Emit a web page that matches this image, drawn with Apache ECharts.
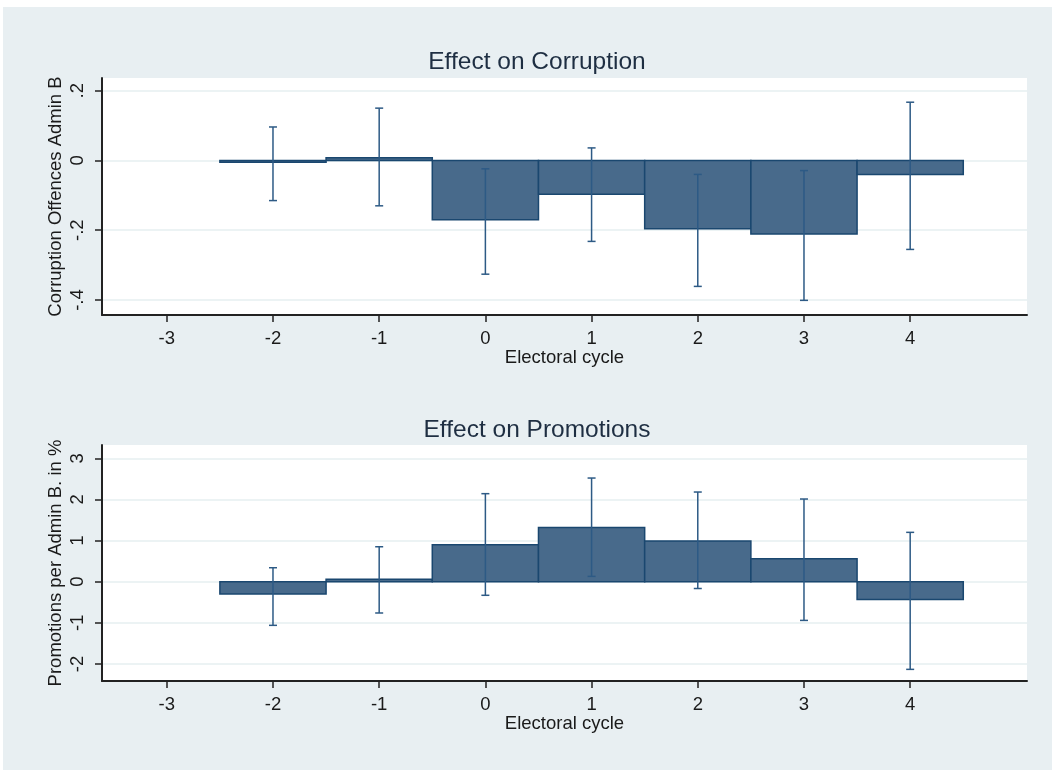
<!DOCTYPE html>
<html><head><meta charset="utf-8">
<script src="https://cdn.jsdelivr.net/npm/echarts@6/dist/echarts.min.js"></script>
<style>
html,body{margin:0;padding:0;background:#fff;}
#bg{position:absolute;left:3px;top:7px;width:1049px;height:763px;background:#e8eff2;}
#chart{position:absolute;left:0;top:0;width:1052px;height:771px;}
</style></head>
<body><div id="bg"></div><div id="chart"></div>
<script>
// ---- data ----
const cycles = [-2, -1, 0, 1, 2, 3, 4];
const corrEffect = [-0.005, 0.008, -0.170, -0.097, -0.196, -0.211, -0.040];
const corrLow    = [-0.115, -0.130, -0.326, -0.232, -0.361, -0.401, -0.255];
const corrHigh   = [ 0.096,  0.150, -0.024,  0.036, -0.040, -0.029,  0.167];
const promEffect = [-0.30, 0.06, 0.90, 1.32, 0.99, 0.56, -0.43];
const promLow    = [-1.06, -0.76, -0.33, 0.13, -0.165, -0.94, -2.13];
const promHigh   = [ 0.34,  0.85, 2.14, 2.52, 2.18, 2.01, 1.20];
const xTicks = [-3, -2, -1, 0, 1, 2, 3, 4];
const corrTicks = [-0.4, -0.2, 0, 0.2];
const corrTickLabels = ['-.4', '-.2', '0', '.2'];
const promTicks = [-2, -1, 0, 1, 2, 3];
const titles = ['Effect on Corruption', 'Effect on Promotions'];
const yNames = ['Corruption Offences Admin B', 'Promotions per Admin B. in %'];
const xName = 'Electoral cycle';

const FONT = '"Liberation Sans", Arial, sans-serif';
const barFill = '#486a8b';
const barStroke = '#1a476f';
const ciColor = '#2d5a85';
const LBL = 18.5;

function barData(eff){ return cycles.map((c,i)=>[c, eff[i]]); }
function ciData(lo,hi){ return cycles.map((c,i)=>[c, lo[i], hi[i]]); }

function barRender(params, api){
  const x = api.value(0), v = api.value(1);
  const p1 = api.coord([x-0.5, Math.max(v,0)]);
  const p2 = api.coord([x+0.5, Math.min(v,0)]);
  return {type:'rect', shape:{x:p1[0], y:p1[1], width:p2[0]-p1[0], height:Math.max(p2[1]-p1[1],1)},
    style:{fill:barFill, stroke:barStroke, lineWidth:1.5}};
}
function ciRender(params, api){
  const x = api.value(0);
  const lo = api.coord([x, api.value(1)]);
  const hi = api.coord([x, api.value(2)]);
  const w = 4;
  const st = {stroke:ciColor, lineWidth:1.5};
  return {type:'group', children:[
    {type:'line', shape:{x1:lo[0], y1:lo[1], x2:hi[0], y2:hi[1]}, style:st},
    {type:'line', shape:{x1:lo[0]-w, y1:lo[1], x2:lo[0]+w, y2:lo[1]}, style:st},
    {type:'line', shape:{x1:hi[0]-w, y1:hi[1], x2:hi[0]+w, y2:hi[1]}, style:st}
  ]};
}

function xAxisDef(idx){
  return {type:'value', gridIndex:idx, min:-3.61, max:5.10,
    name:xName, nameLocation:'middle', nameGap:32,
    nameTextStyle:{fontFamily:FONT, fontSize:LBL, color:'#1a1a1a'},
    axisLine:{show:true, onZero:false, lineStyle:{color:'#222', width:2}},
    axisTick:{show:true, length:7, customValues:xTicks, lineStyle:{color:'#222', width:1.5}},
    axisLabel:{customValues:xTicks, margin:14, fontFamily:FONT, fontSize:LBL, color:'#1a1a1a'},
    splitLine:{show:false}};
}
function yAxisDef(idx, min, max, ticks, labels){
  return {type:'value', gridIndex:idx, min:min, max:max,
    name:yNames[idx], nameLocation:'middle', nameGap:37, nameRotate:90, nameMoveOverlap:false,
    nameTextStyle:{fontFamily:FONT, fontSize:LBL, color:'#1a1a1a'},
    axisLine:{show:true, onZero:false, lineStyle:{color:'#222', width:2}},
    axisTick:{show:true, length:7, customValues:ticks, lineStyle:{color:'#222', width:1.5}},
    axisLabel:{customValues:ticks, rotate:90, margin:15, fontFamily:FONT, fontSize:LBL, color:'#1a1a1a',
      formatter:(v)=>{ const i = ticks.findIndex(t=>Math.abs(t-v)<1e-9); return labels ? labels[i] : String(v); }},
    splitLine:{show:true, lineStyle:{color:'#e6eff1', width:1.5}}};
}

const chart = echarts.init(document.getElementById('chart'), null, {renderer:'canvas'});
chart.setOption({
  backgroundColor:'transparent',
  animation:false,
  title:[
    {text:titles[0], left:532, top:45, textAlign:'center', textStyle:{fontFamily:FONT, fontSize:24.5, fontWeight:'normal', color:'#1e2e42'}},
    {text:titles[1], left:532, top:413, textAlign:'center', textStyle:{fontFamily:FONT, fontSize:24.5, fontWeight:'normal', color:'#1e2e42'}}
  ],
  grid:[
    {left:102, right:25, top:78, height:237, show:true, backgroundColor:'#fff', borderWidth:0},
    {left:102, right:25, top:445, height:236, show:true, backgroundColor:'#fff', borderWidth:0}
  ],
  xAxis:[xAxisDef(0), xAxisDef(1)],
  yAxis:[yAxisDef(0, -0.443, 0.2364, corrTicks, corrTickLabels), yAxisDef(1, -2.413, 3.323, promTicks, null)],
  series:[
    {type:'custom', xAxisIndex:0, yAxisIndex:0, renderItem:barRender, data:barData(corrEffect), clip:true},
    {type:'custom', xAxisIndex:0, yAxisIndex:0, renderItem:ciRender, data:ciData(corrLow,corrHigh), clip:true, z:3},
    {type:'custom', xAxisIndex:1, yAxisIndex:1, renderItem:barRender, data:barData(promEffect), clip:true},
    {type:'custom', xAxisIndex:1, yAxisIndex:1, renderItem:ciRender, data:ciData(promLow,promHigh), clip:true, z:3}
  ]
});
</script></body></html>
